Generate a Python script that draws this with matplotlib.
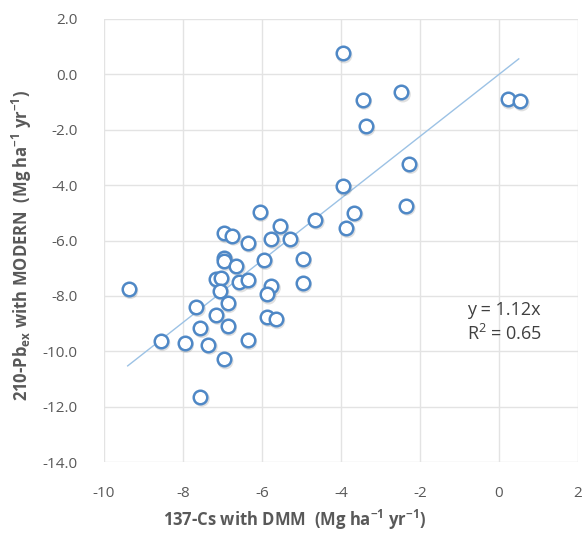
import matplotlib
matplotlib.use("Agg")
import matplotlib.pyplot as plt
import matplotlib.transforms as mtransforms
import numpy as np

plt.rcParams['font.family'] = ['Open Sans', 'DejaVu Sans']
plt.rcParams['axes.unicode_minus'] = False
plt.rcParams['mathtext.fontset'] = 'custom'
plt.rcParams['mathtext.rm'] = 'Open Sans'
plt.rcParams['mathtext.bf'] = 'Open Sans:bold'

# Data
cs_dmm = [-6.06, -5.55, -4.65, -6.95, -6.75, -6.36, -5.76, -5.28, -6.95, -6.95,
          -6.65, -5.95, -4.97, -7.16, -7.04, -6.57, -6.36, -5.76, -4.97, -9.37,
          -7.06, -5.87, -7.66, -6.87, -7.16, -5.87, -5.65, -7.56, -6.87, -8.56,
          -7.96, -7.36, -6.36, -6.96, -7.56,
          -3.95, -3.45, -2.47, -3.37, 0.22, 0.54, -2.27, -3.95, -2.35, -3.67, -3.87]
pb_modern = [-4.96, -5.48, -5.25, -5.74, -5.82, -6.08, -5.95, -5.95, -6.63, -6.73,
             -6.92, -6.70, -6.68, -7.39, -7.36, -7.51, -7.42, -7.64, -7.54, -7.75,
             -7.81, -7.95, -8.40, -8.26, -8.68, -8.76, -8.84, -9.16, -9.09, -9.63,
             -9.70, -9.76, -9.59, -10.29, -11.64,
             0.76, -0.91, -0.65, -1.87, -0.90, -0.97, -3.23, -4.03, -4.74, -4.99, -5.55]
slope = 1.12
trend_x = [-9.4, 0.5]
x_ticks = [-10, -8, -6, -4, -2, 0, 2]
y_ticks = [2, 0, -2, -4, -6, -8, -10, -12, -14]

fig = plt.figure(figsize=(5.85, 5.34), dpi=100)
ax = fig.add_axes([104/585, 1-462/534, (578-104)/585, (462-19)/534])

ax.set_xlim(-10, 2)
ax.set_ylim(-14, 2)
ax.set_xticks(x_ticks)
ax.set_yticks(y_ticks)
ax.set_xticklabels([f"{t:d}" for t in x_ticks])
ax.set_yticklabels([f"{t:.1f}" for t in y_ticks])
ax.tick_params(length=0, labelsize=11, labelcolor='#595959')
ax.tick_params(axis='y', pad=19)
ax.tick_params(axis='x', pad=17)
ax.grid(True, color='#E3E3E3', linewidth=1)
ax.set_axisbelow(True)
for s in ax.spines.values():
    s.set_visible(False)

tx = np.array(trend_x)
ax.plot(tx, slope*tx, color='#9CC2E5', linewidth=1.0, zorder=2)

shadow = mtransforms.offset_copy(ax.transData, fig=fig, x=1.0, y=-1.5, units='points')
ax.scatter(cs_dmm, pb_modern, s=95, facecolors='none', edgecolors='#000000',
           linewidths=1.8, alpha=0.12, transform=shadow, zorder=2.5)
ax.scatter(cs_dmm, pb_modern, s=95, facecolors='white', edgecolors='#4F88C6',
           linewidths=1.8, zorder=3)

ax.text(-0.82, -8.5, "y = 1.12x", fontsize=13, color='#404040', va='center', ha='left')
ax.text(-0.82, -9.38, "R$^2$ = 0.65", fontsize=13, color='#404040', va='center', ha='left')

fig.text(22/585, 1-246/534, r"210-Pb$_{\mathbf{ex}}$ with MODERN  (Mg ha$^{\mathbf{-1}}$ yr$^{\mathbf{-1}}$)",
         rotation=90, ha='center', va='center', fontsize=12, fontweight='bold', color='#595959')
fig.text(295/585, 1-520/534, r"137-Cs with DMM  (Mg ha$^{\mathbf{-1}}$ yr$^{\mathbf{-1}}$)",
         ha='center', va='center', fontsize=12, fontweight='bold', color='#595959')

fig.savefig("out.png", dpi=100)
